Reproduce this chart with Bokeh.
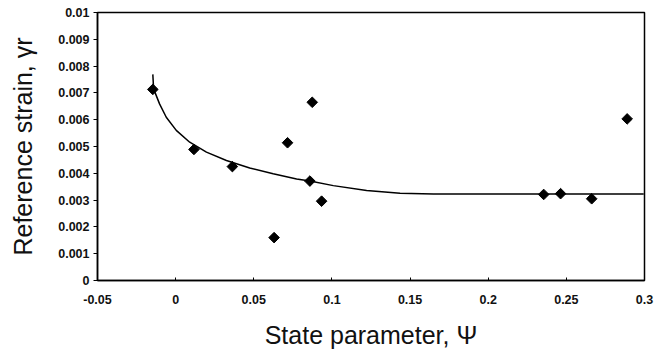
import numpy as np
from bokeh.plotting import figure
from bokeh.models import Range1d, FixedTicker
from bokeh.embed import file_html
from bokeh.resources import INLINE

# measured data points (state parameter psi, reference strain gamma_r)
psi = [-0.0146, 0.0117, 0.0363, 0.0630, 0.0716, 0.0874, 0.0859, 0.0934,
       0.2355, 0.2463, 0.2662, 0.2889]
gamma_r = [0.00713, 0.00489, 0.00425, 0.00160, 0.00514, 0.00665, 0.00371,
           0.00296, 0.00321, 0.00324, 0.00305, 0.00603]

# fitted trend curve
curve_psi = [-0.0146, -0.0141, -0.0103, -0.0060, 0.0004, 0.0090, 0.0197,
             0.0325, 0.0474, 0.0624, 0.0774, 0.0859, 0.1009, 0.1222,
             0.1436, 0.1650, 0.2077, 0.2995]
curve_gamma = [0.00769, 0.00715, 0.00659, 0.00609, 0.00560, 0.00516,
               0.00479, 0.00448, 0.00420, 0.00398, 0.00379, 0.00371,
               0.00354, 0.00336, 0.00326, 0.00323, 0.00323, 0.00323]

x_ticks = [-0.05, 0.0, 0.05, 0.1, 0.15, 0.2, 0.25, 0.3]
x_tick_labels = ["-0.05", "0", "0.05", "0.1", "0.15", "0.2", "0.25", "0.3"]
y_ticks = [0.0, 0.001, 0.002, 0.003, 0.004, 0.005, 0.006, 0.007, 0.008, 0.009, 0.01]
y_tick_labels = ["0", "0.001", "0.002", "0.003", "0.004", "0.005", "0.006",
                 "0.007", "0.008", "0.009", "0.01"]

x_title = "State parameter, \u03a8"
y_title = "Reference strain, \u03b3r"

FONT = "Liberation Sans"

p = figure(width=655, height=354, output_backend="svg", toolbar_location=None,
           x_range=Range1d(-0.05, 0.3), y_range=Range1d(0, 0.01),
           min_border_left=97, min_border_right=11, min_border_top=12,
           min_border_bottom=74)
p.background_fill_color = "white"
p.border_fill_color = "white"
p.grid.visible = False
p.outline_line_color = "black"
p.outline_line_width = 1.5

p.line(curve_psi, curve_gamma, line_color="black", line_width=1.5)
p.scatter(psi, gamma_r, marker="square", angle=np.pi / 4, size=7.5,
          fill_color="black", line_color="black")

xa = p.xaxis[0]
xa.ticker = FixedTicker(ticks=x_ticks)
xa.major_label_overrides = {t: l for t, l in zip(x_ticks, x_tick_labels)}
xa.major_tick_in = 3
xa.major_tick_out = 0
xa.minor_tick_line_color = None
xa.axis_line_width = 1.5
xa.axis_line_color = "black"
xa.major_tick_line_color = "black"
xa.major_label_text_font = FONT
xa.major_label_text_font_style = "bold"
xa.major_label_text_font_size = "12.5px"
xa.major_label_text_color = "#111111"
xa.major_label_standoff = 14
xa.axis_label = x_title
xa.axis_label_text_font = FONT
xa.axis_label_text_font_style = "normal"
xa.axis_label_text_font_size = "25px"
xa.axis_label_text_color = "#111111"
xa.axis_label_standoff = 14

ya = p.yaxis[0]
ya.ticker = FixedTicker(ticks=y_ticks)
ya.major_label_overrides = {t: l for t, l in zip(y_ticks, y_tick_labels)}
ya.major_tick_in = 0
ya.major_tick_out = 4
ya.minor_tick_line_color = None
ya.axis_line_width = 1.5
ya.axis_line_color = "black"
ya.major_tick_line_color = "black"
ya.major_label_text_font = FONT
ya.major_label_text_font_style = "bold"
ya.major_label_text_font_size = "12.5px"
ya.major_label_text_color = "#111111"
ya.major_label_standoff = 4
ya.axis_label = y_title
ya.axis_label_text_font = FONT
ya.axis_label_text_font_style = "normal"
ya.axis_label_text_font_size = "25px"
ya.axis_label_text_color = "#111111"
ya.axis_label_standoff = 18

open("out.html", "w").write(file_html(p, INLINE))
